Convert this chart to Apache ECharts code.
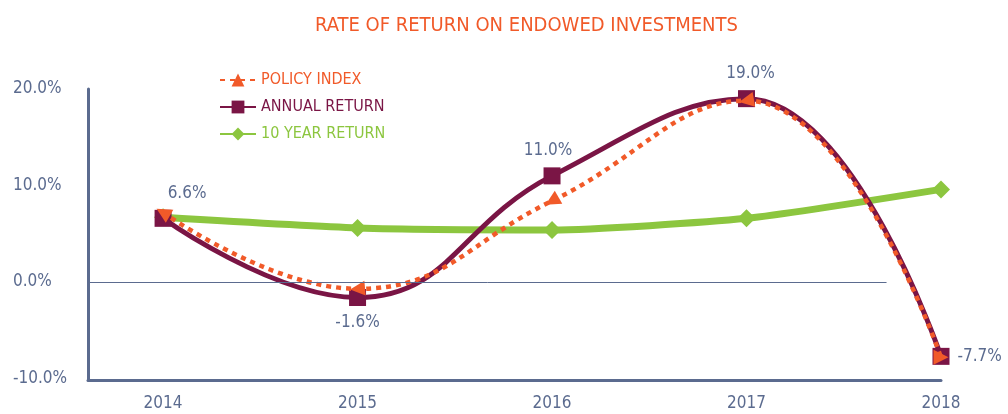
<!DOCTYPE html>
<html>
<head>
<meta charset="utf-8">
<script src="https://cdn.jsdelivr.net/npm/echarts@6/dist/echarts.min.js"></script>
<style>
  html, body { margin: 0; padding: 0; background: #fff; }
  #chart { width: 1008px; height: 414px; }
</style>
</head>
<body>
<div id="chart"></div>
<script>
// data
const years = [2014, 2015, 2016, 2017, 2018];
const policyIndex = [7.2, -0.7, 8.4, 18.8, -7.8];
const annualReturn = [6.6, -1.6, 11.0, 19.0, -7.7];
const tenYearReturn = [6.7, 5.6, 5.4, 6.6, 9.6];
const yTicks = [-10, 0, 10, 20];

const FONT = '"DejaVu Sans Condensed", "Liberation Sans Narrow", sans-serif';
const SLATE = '#5b6b8f';
const ORANGE = '#f15a29';
const MAROON = '#7a1545';
const GREEN = '#8cc63f';

let chart = echarts.init(document.getElementById('chart'));

// arrow directions for the policy markers, label placement for annual
const arrowRot = [60, 95, 120, 100, -90];
const labelPos = [
    { position: 'top', offset: [24, 0] },
    { position: 'bottom' },
    { position: 'top', offset: [-4, 0] },
    { position: 'top', offset: [4, 0] },
    { position: 'right' }
];

chart.setOption({
    animation: false,
    textStyle: { fontFamily: FONT },
    title: {
        text: 'RATE OF RETURN ON ENDOWED INVESTMENTS',
        left: 310,
        top: 11,
        textStyle: { color: ORANGE, fontSize: 20, fontWeight: 'normal', fontFamily: FONT }
    },
    legend: {
        orient: 'vertical',
        left: 214,
        top: 67,
        itemGap: 11,
        itemWidth: 36,
        itemHeight: 16,
        textStyle: { fontSize: 16, fontFamily: FONT },
        data: [
            { name: 'POLICY INDEX', textStyle: { color: ORANGE } },
            { name: 'ANNUAL RETURN', textStyle: { color: MAROON } },
            { name: '10 YEAR RETURN', textStyle: { color: GREEN } }
        ]
    },
    grid: { left: 88, right: 67, top: 89, bottom: 34 },
    xAxis: {
        type: 'value',
        min: 2013.614,
        max: 2018,
        splitLine: { show: false },
        axisTick: { show: false },
        axisLine: { show: true, onZero: false, lineStyle: { color: SLATE, width: 3 } },
        axisLabel: {
            customValues: years,
            color: SLATE, fontSize: 17, margin: 15, fontFamily: FONT,
            formatter: v => String(v)
        }
    },
    yAxis: {
        type: 'value',
        min: -10.15,
        max: 20,
        splitLine: { show: false },
        axisTick: { show: false },
        axisLine: { show: true, lineStyle: { color: SLATE, width: 3 } },
        axisLabel: {
            customValues: yTicks,
            color: SLATE, fontSize: 17, margin: 75, align: 'left', fontFamily: FONT,
            formatter: v => v.toFixed(1) + '%'
        }
    },
    series: [
        {
            name: 'POLICY INDEX',
            type: 'line',
            smooth: 0.45,
            z: 4,
            symbol: 'triangle',
            symbolSize: 15,
            lineStyle: { color: ORANGE, width: 4.5, type: [5, 5] },
            itemStyle: { color: ORANGE },
            data: years.map((y, i) => ({ value: [y, policyIndex[i]], symbolRotate: arrowRot[i] })),
            markLine: {
                silent: true,
                symbol: 'none',
                label: { show: false },
                lineStyle: { color: SLATE, width: 1, type: 'solid' },
                data: [[{ coord: [2013.614, 0] }, { coord: [2017.72, 0] }]]
            }
        },
        {
            name: 'ANNUAL RETURN',
            type: 'line',
            smooth: 0.45,
            z: 3,
            symbol: 'rect',
            symbolSize: 17,
            lineStyle: { color: MAROON, width: 5 },
            itemStyle: { color: MAROON },
            label: {
                show: true,
                color: SLATE,
                fontSize: 17,
                fontFamily: FONT,
                distance: 8,
                formatter: p => p.value[1].toFixed(1) + '%'
            },
            data: years.map((y, i) => ({ value: [y, annualReturn[i]], label: labelPos[i] }))
        },
        {
            name: '10 YEAR RETURN',
            type: 'line',
            smooth: 0.2,
            z: 2,
            symbol: 'diamond',
            symbolSize: 18,
            lineStyle: { color: GREEN, width: 7 },
            itemStyle: { color: GREEN },
            data: years.map((y, i) => [y, tenYearReturn[i]])
        }
    ]
});
</script>
</body>
</html>
